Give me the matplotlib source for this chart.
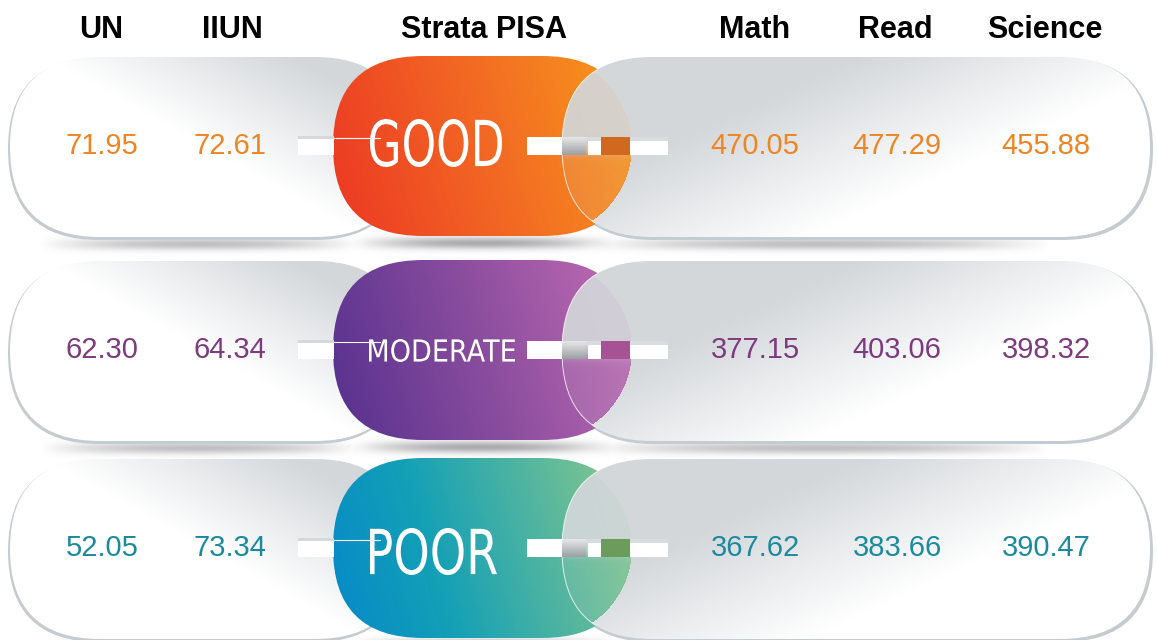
import numpy as np
import matplotlib.pyplot as plt
from matplotlib.patches import FancyBboxPatch, Rectangle, PathPatch
from matplotlib.colors import LinearSegmentedColormap, to_rgb
from matplotlib.textpath import TextPath
from matplotlib.font_manager import FontProperties
from matplotlib.transforms import Affine2D

# data
headers = ['UN', 'IIUN', 'Strata PISA', 'Math', 'Read', 'Science']
strata = ['GOOD', 'MODERATE', 'POOR']
un = [71.95, 62.30, 52.05]
iiun = [72.61, 64.34, 73.34]
math = [470.05, 377.15, 367.62]
read = [477.29, 403.06, 383.66]
science = [455.88, 398.32, 390.47]
text_colors = ['#EF8423', '#7D3A7F', '#1B8A9D']
pill_colors = [[(0, '#EC3723'), (0.5, '#F26724'), (1, '#F8991C')],
               [(0, '#55308E'), (0.5, '#8A4D9E'), (1, '#C26DB3')],
               [(0, '#0589C9'), (0.35, '#14A0B6'), (1, '#8DC98B')]]
piece_colors = ['#D0691F', '#A85296', '#6C9C5C']

W, H = 1157, 640
row_cy = [147, 351, 549]
R = 90
col_x = [102, 230, 755, 897, 1046]
head_x = [101, 232, 484, 755, 895, 1045]
label_box = [(370, 502, 119, 167), (369, 515, 339, 362), (370, 497, 528, 575)]


def stadium_mask(X, Y, x0, x1, y0, y1):
    r = (y1 - y0) / 2
    cy = (y0 + y1) / 2
    px = np.clip(X, x0 + r, x1 - r)
    return (X - px) ** 2 + (Y - cy) ** 2 <= r ** 2


def pill(ax, x0, x1, y0, y1, z, **kw):
    h = y1 - y0
    p = FancyBboxPatch((x0, y0), x1 - x0, h,
                       boxstyle=f"round,pad=0,rounding_size={h / 2}",
                       zorder=z, **kw)
    ax.add_patch(p)
    return p


def grid(x0, x1, y0, y1):
    X, Y = np.meshgrid(np.arange(int(x0), int(x1)) + 0.5, np.arange(int(y0), int(y1)) + 0.5)
    return X, Y


def show(ax, img, x0, x1, y0, y1, z, clip=None):
    im = ax.imshow(img, extent=(x0, x1, y1, y0), origin='upper',
                   interpolation='bilinear', zorder=z)
    if clip is not None:
        im.set_clip_path(clip)
    return im


def shadow(ax, cx, cy, rx, ry, amax, z, col=(0.45, 0.45, 0.47)):
    x0, x1, y0, y1 = cx - rx, cx + rx, cy - 3 * ry, cy + 3 * ry
    X, Y = grid(x0, x1, y0, y1)
    a = amax * np.clip(1 - ((X - cx) / rx) ** 2, 0, 1) * np.exp(-((Y - cy) / ry) ** 2)
    img = np.zeros(X.shape + (4,))
    img[..., :3] = col
    img[..., 3] = a
    show(ax, img, x0, x1, y0, y1, z)


def fit_text(ax, s, box, color, z):
    x0, x1, y0, y1 = box
    tp = TextPath((0, 0), s, size=100, prop=FontProperties(family='Liberation Sans Narrow'))
    ext = tp.get_extents()
    tr = (Affine2D().translate(-ext.x0, -ext.y0)
          .scale((x1 - x0) / ext.width, -(y1 - y0) / ext.height)
          .translate(x0, y1))
    ax.add_patch(PathPatch(tr.transform_path(tp), fc=color, ec='none', zorder=z))


fig = plt.figure(figsize=(W / 100, H / 100), dpi=100)
ax = fig.add_axes([0, 0, 1, 1])
ax.set_xlim(0, W)
ax.set_ylim(H, 0)
ax.axis('off')

white = np.array([1.0, 1.0, 1.0])
gray = np.array(to_rgb('#D3D7DA'))
rim = '#C5CCD1'

for i, cy in enumerate(row_cy):
    y0, y1 = cy - R, cy + R
    # shadows
    shadow(ax, 200, y1 + 7, 160, 6, 0.45, 1)
    shadow(ax, 820, y1 + 7, 230, 6, 0.45, 1)
    shadow(ax, 482, y1 + 6, 130, 6, 0.6, 1)

    # left gray pill
    lx0, lx1 = 10, 405
    pill(ax, lx0 - 2, lx1, y0 + 1, y1 + 3, 2, fc=rim, ec='none')
    lp = pill(ax, lx0, lx1, y0, y1, 3, fc='none', ec='none')
    X, Y = grid(lx0, lx1, y0, y1)
    u = (X - lx0) / (lx1 - lx0)
    v = (Y - y0) / (y1 - y0)
    t = np.clip((0.55 * u + 0.45 * (1 - v) - 0.5) / 0.35, 0, 1)
    img = white * (1 - t[..., None]) + gray * t[..., None]
    show(ax, img, lx0, lx1, y0, y1, 3, lp)

    # right pill rim sits below the coloured pill
    rx0, rx1 = 562, 1150
    pill(ax, rx0, rx1 + 3, y0 + 1, y1 + 3, 4, fc=rim, ec='none')

    # coloured middle pill
    cx0, cx1 = 333, 632
    cp = pill(ax, cx0, cx1, y0 - 1, y1 - 1, 5, fc='none', ec='none')
    X, Y = grid(cx0, cx1, y0 - 1, y1 - 1)
    u = (X - cx0) / (cx1 - cx0)
    v = (Y - y0) / (y1 - y0)
    t = np.clip(0.85 * u + 0.15 * (1 - v), 0, 1)
    cmap = LinearSegmentedColormap.from_list('c%d' % i, pill_colors[i])
    show(ax, cmap(t), cx0, cx1, y0 - 1, y1 - 1, 5, cp)

    # right gray pill, partly see-through where it lies over the coloured pill
    rp = pill(ax, rx0, rx1, y0, y1, 7, fc='none', ec='none')
    X, Y = grid(rx0, rx1, y0, y1)
    u = (X - rx0) / (rx1 - rx0)
    v = (Y - y0) / (y1 - y0)
    t = np.clip((0.6 * (1 - u) + 0.4 * (1 - v) - 0.35) / 0.35, 0, 1)
    img = np.ones(X.shape + (4,))
    img[..., :3] = white * (1 - t[..., None]) + gray * t[..., None]
    inside = stadium_mask(X, Y, cx0, cx1, y0 - 1, y1 - 1)
    a = 0.12 + 0.8 / (1 + np.exp((Y - (cy + 4)) / 3.0))
    img[..., 3] = np.where(inside, a, 1.0)
    show(ax, img, rx0, rx1, y0, y1, 7, rp)
    edge = pill(ax, rx0, rx1, y0, y1, 7.5, fc='none', ec='white', lw=0.7, alpha=0.8)
    edge.set_clip_path(cp)

    # connector bars
    ax.add_patch(Rectangle((298, cy - 10), 36, 18, fc='white', ec='none', zorder=8))
    ax.add_patch(Rectangle((298, cy - 11), 36, 3, fc='#D5D9DB', ec='none', zorder=8))
    ax.plot([334, 380], [cy - 9, cy - 9], color='white', lw=0.8, zorder=8)
    ax.add_patch(Rectangle((527, cy - 10), 35, 18, fc='white', ec='none', zorder=8))
    X, Y = grid(562, 586, cy - 10, cy + 8)
    g = np.clip((Y - (cy - 10)) / 18, 0, 1)
    gimg = np.array(to_rgb('#E6E8E9')) * (1 - g[..., None]) + np.array(to_rgb('#9C9FA2')) * g[..., None]
    show(ax, gimg, 562, 586, cy - 10, cy + 8, 8)
    ax.add_patch(Rectangle((586, cy - 10), 82, 4, fc='#D8DCDE', ec='none', zorder=8))
    ax.add_patch(Rectangle((588, cy - 6), 13, 14, fc='white', ec='none', zorder=8))
    ax.add_patch(Rectangle((601, cy - 10), 29, 18, fc=piece_colors[i], ec='none', zorder=8))
    ax.add_patch(Rectangle((630, cy - 6), 38, 14, fc='white', ec='none', zorder=8))

    # strata label
    fit_text(ax, strata[i], label_box[i], 'white', 9)

    # values
    vals = [un[i], iiun[i], math[i], read[i], science[i]]
    for x, val in zip(col_x, vals):
        ax.text(x, cy - 1, f'{val:.2f}', color=text_colors[i], fontsize=21,
                family='Liberation Sans', ha='center', va='center', zorder=9)

for x, h in zip(head_x, headers):
    ax.text(x, 30, h, fontsize=22, fontweight='bold', family='Liberation Sans',
            ha='center', va='center', color='black', zorder=9)

fig.savefig('out.png', dpi=100)
